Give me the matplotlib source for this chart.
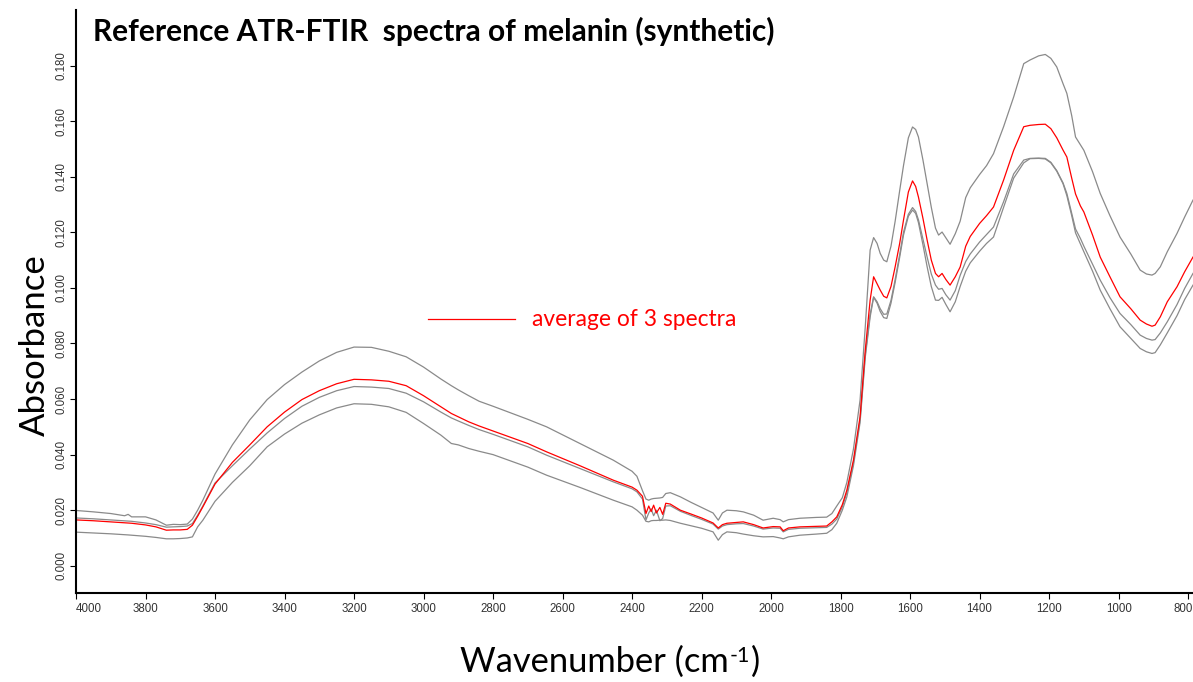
import matplotlib
matplotlib.use("Agg")
import matplotlib.pyplot as plt
from matplotlib.ticker import FormatStrFormatter
from matplotlib.transforms import offset_copy, ScaledTranslation

# ---------------- data ----------------
wavenumber = [4000, 3950, 3900, 3860, 3850, 3840, 3800, 3770, 3740, 3720, 3700, 3680, 3665, 3650, 3635,
              3600, 3550, 3500, 3450, 3400, 3350, 3300, 3250, 3200, 3150, 3100, 3050, 3000, 2950, 2920,
              2900, 2870, 2840, 2800, 2700, 2646, 2550, 2454, 2400, 2386, 2370, 2360, 2352, 2345, 2338,
              2330, 2320, 2312, 2303, 2290, 2261, 2230, 2200, 2167, 2152, 2140, 2127, 2100, 2080, 2050,
              2023, 1994, 1974, 1965, 1950, 1917, 1870, 1840, 1825, 1811, 1795, 1782, 1763, 1744, 1729,
              1715, 1705, 1695, 1686, 1676, 1667, 1655, 1643, 1630, 1619, 1605, 1593, 1584, 1576, 1563,
              1551, 1539, 1527, 1518, 1508, 1497, 1485, 1470, 1456, 1440, 1427, 1400, 1380, 1360, 1331,
              1302, 1273, 1255, 1230, 1211, 1195, 1178, 1160, 1149, 1135, 1124, 1110, 1100, 1075, 1053,
              1025, 996, 965, 938, 920, 904, 895, 880, 860, 832, 810, 786]

spectrum_1 = [.0199, .0194, .0188, .0180, .0185, .0176, .0176, .0165, .0146, .0149, .0148, .0150, .0168, .0200, .0236,
              .0330, .0435, .0525, .0598, .0652, .0697, .0737, .0768, .0787, .0786, .0772, .0752, .0715, .0672, .0648,
              .0633, .0612, .0592, .0574, .0527, .0500, .0440, .0380, .0340, .0322, .0270, .0240, .0236, .0240, .0242,
              .0243, .0244, .0246, .0260, .0263, .0248, .0228, .0210, .0190, .0164, .0190, .0200, .0198, .0194, .0182,
              .0164, .0171, .0166, .0158, .0166, .0171, .0174, .0175, .0188, .0215, .0245, .0300, .0420, .0596, .0860,
              .1136, .1181, .1160, .1124, .1100, .1094, .1150, .1240, .1350, .1440, .1540, .1579, .1570, .1543, .1460,
              .1376, .1290, .1215, .1190, .1201, .1180, .1157, .1195, .1240, .1325, .1360, .1408, .1440, .1483, .1580,
              .1687, .1807, .1820, .1835, .1840, .1826, .1795, .1735, .1700, .1620, .1543, .1515, .1495, .1418, .1340,
              .1260, .1183, .1122, .1064, .1050, .1046, .1052, .1076, .1130, .1196, .1255, .1316]

average = [.0165, .0162, .0158, .0155, .0154, .0153, .0147, .0140, .0128, .0129, .0129, .0131, .0146, .0178, .0212,
           .0294, .0372, .0435, .0500, .0553, .0598, .0630, .0655, .0671, .0669, .0664, .0648, .0612, .0572, .0548,
           .0536, .0518, .0503, .0485, .0440, .0410, .0360, .0308, .0283, .0272, .0250, .0188, .0215, .0195, .0218,
           .0190, .0210, .0185, .0225, .0222, .0200, .0186, .0172, .0154, .0136, .0148, .0153, .0156, .0158, .0148,
           .0136, .0141, .0140, .0126, .0136, .0140, .0142, .0143, .0158, .0176, .0220, .0272, .0380, .0536, .0776,
           .0956, .1040, .1015, .0992, .0970, .0964, .1005, .1076, .1160, .1244, .1345, .1385, .1365, .1327, .1250,
           .1172, .1100, .1052, .1040, .1052, .1030, .1010, .1040, .1075, .1150, .1185, .1232, .1260, .1291, .1388,
           .1495, .1580, .1585, .1588, .1589, .1573, .1540, .1496, .1471, .1395, .1338, .1295, .1273, .1190, .1111,
           .1040, .0968, .0925, .0884, .0870, .0862, .0866, .0896, .0950, .1004, .1058, .1111]

spectrum_2 = [.0172, .0169, .0165, .0162, .0161, .0160, .0154, .0148, .0139, .0140, .0141, .0143, .0152, .0182, .0215,
              .0298, .0360, .0420, .0478, .0530, .0574, .0606, .0630, .0645, .0643, .0638, .0621, .0590, .0553, .0532,
              .0521, .0505, .0490, .0473, .0428, .0398, .0350, .0302, .0277, .0266, .0240, .0165, .0190, .0205, .0180,
              .0200, .0162, .0170, .0215, .0216, .0196, .0181, .0167, .0150, .0132, .0143, .0148, .0151, .0152, .0143,
              .0132, .0136, .0135, .0122, .0131, .0135, .0137, .0138, .0150, .0168, .0212, .0262, .0372, .0525, .0760,
              .0905, .0968, .0950, .0925, .0905, .0906, .0955, .1030, .1120, .1200, .1265, .1289, .1275, .1245, .1175,
              .1111, .1050, .1010, .0995, .0998, .0975, .0956, .0990, .1045, .1095, .1122, .1165, .1192, .1219, .1310,
              .1410, .1460, .1466, .1467, .1466, .1452, .1422, .1378, .1340, .1268, .1212, .1178, .1150, .1085, .1028,
              .0965, .0908, .0868, .0830, .0818, .0812, .0814, .0838, .0878, .0940, .0998, .1052]

spectrum_3 = [.0121, .0118, .0115, .0112, .0111, .0110, .0106, .0102, .0097, .0097, .0098, .0100, .0104, .0140, .0164,
              .0232, .0300, .0360, .0428, .0474, .0513, .0543, .0568, .0583, .0581, .0572, .0552, .0512, .0470, .0440,
              .0435, .0422, .0412, .0400, .0355, .0326, .0282, .0236, .0212, .0200, .0182, .0160, .0158, .0162, .0163,
              .0163, .0164, .0164, .0165, .0163, .0153, .0144, .0135, .0122, .0092, .0112, .0122, .0119, .0114, .0108,
              .0104, .0105, .0100, .0097, .0104, .0110, .0114, .0117, .0130, .0153, .0200, .0248, .0360, .0515, .0750,
              .0895, .0966, .0945, .0915, .0893, .0890, .0945, .1020, .1110, .1190, .1258, .1280, .1268, .1235, .1155,
              .1076, .1005, .0956, .0955, .0966, .0940, .0914, .0950, .1005, .1060, .1090, .1132, .1160, .1183, .1290,
              .1395, .1450, .1465, .1466, .1464, .1450, .1420, .1375, .1332, .1260, .1198, .1158, .1130, .1060, .0992,
              .0925, .0860, .0818, .0782, .0770, .0764, .0767, .0795, .0838, .0900, .0958, .1010]

legend_label = "average of 3 spectra"
title_text = "Reference ATR-FTIR  spectra of melanin (synthetic)"
x_ticks = [4000, 3800, 3600, 3400, 3200, 3000, 2800, 2600, 2400, 2200, 2000, 1800, 1600, 1400, 1200, 1000, 800]
y_ticks = [0.000, 0.020, 0.040, 0.060, 0.080, 0.100, 0.120, 0.140, 0.160, 0.180]

# ---------------- figure ----------------
W, H = 1193, 682
fig = plt.figure(figsize=(W / 100, H / 100), dpi=100)
ax = fig.add_axes([76 / W, 89 / H, (W - 76) / W, 583 / H])

gray = "#8a8a8a"
for s in (spectrum_1, spectrum_2, spectrum_3):
    ax.plot(wavenumber, s, color=gray, lw=0.9)
red_line, = ax.plot(wavenumber, average, color="#ff0000", lw=0.9, label=legend_label)

ax.set_xlim(4000, 786)
ax.set_ylim(-0.0098, 0.2)
ax.set_xticks(x_ticks)
ax.set_yticks(y_ticks)
ax.yaxis.set_major_formatter(FormatStrFormatter("%.3f"))

for side in ("top", "right"):
    ax.spines[side].set_visible(False)
for side in ("left", "bottom"):
    ax.spines[side].set_linewidth(1.5)
    ax.spines[side].set_color("black")

ax.tick_params(axis="both", direction="out", length=4, width=0.8, color="black",
               labelsize=8.3, labelcolor="#333333")
ax.tick_params(axis="y", pad=2)
for lab in ax.get_yticklabels():
    lab.set_rotation(90)
    lab.set_va("center")
    lab.set_fontfamily("Liberation Sans")
xlabels = ax.get_xticklabels()
for lab in xlabels:
    lab.set_fontfamily("Liberation Sans")
# end tick labels sit at the figure / axis edges, as in the reference
first = xlabels[0]
first.set_ha("left")
last = xlabels[-1]
last.set_ha("right")
last.set_transform(last.get_transform() + ScaledTranslation(5 / 100, 0, fig.dpi_scale_trans))

fig.text(93 / W, 1 - 31 / H, title_text, fontsize=21.5, fontweight="bold",
         family="Lato", ha="left", va="center", color="black")
fig.text(35 / W, 1 - 345 / H, "Absorbance", fontsize=25, family="Lato",
         rotation=90, ha="center", va="center", color="black")

# x label "Wavenumber (cm-1)" built from pieces so the superscript is a plain hyphen
renderer = fig.canvas.get_renderer()
xl_main = fig.text(460 / W, 1 - 672 / H, "Wavenumber (cm", fontsize=24.8, family="Lato",
                   ha="left", va="baseline", color="black")
bb = xl_main.get_window_extent(renderer)
sup = fig.text(bb.x1 / W + 1 / W, bb.y0 / H, "-1", fontsize=15.5, family="Lato",
               ha="left", va="baseline", color="black",
               transform=offset_copy(fig.transFigure, fig=fig, x=0, y=11.5, units="points"))
sup_bb = sup.get_window_extent(renderer)
fig.text(sup_bb.x1 / W + 1 / W, 1 - 672 / H, ")", fontsize=24.8, family="Lato",
         ha="left", va="baseline", color="black")

leg = ax.legend(handles=[red_line], loc="center left",
                bbox_to_anchor=(428 / W, 1 - 320 / H), bbox_transform=fig.transFigure,
                frameon=False, handlelength=3.8, handletextpad=0.75,
                borderpad=0, borderaxespad=0, labelcolor="#ff0000",
                prop={"family": "Lato", "size": 16.4})

fig.savefig("out.png", dpi=100)
